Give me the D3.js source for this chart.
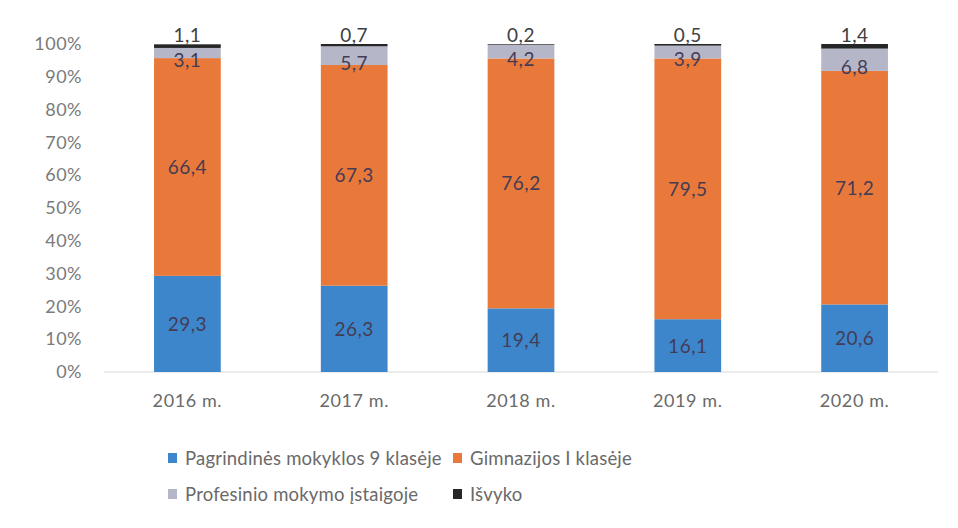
<!DOCTYPE html>
<html>
<head>
<meta charset="utf-8">
<script src="https://cdn.jsdelivr.net/npm/d3@7"></script>
<style>
  body { margin: 0; background: #fff; }
  svg text { font-family: Lato, "Open Sans", sans-serif; }
</style>
</head>
<body>
<div class="chart"></div>
<script>
const years = ['2016 m.', '2017 m.', '2018 m.', '2019 m.', '2020 m.'];
const seriesNames = ['Pagrindinės mokyklos 9 klasėje', 'Gimnazijos I klasėje', 'Profesinio mokymo įstaigoje', 'Išvyko'];
const pagrindines = [29.3, 26.3, 19.4, 16.1, 20.6];
const gimnazijos = [66.4, 67.3, 76.2, 79.5, 71.2];
const profesinio = [3.1, 5.7, 4.2, 3.9, 6.8];
const isvyko = [1.1, 0.7, 0.2, 0.5, 1.4];
const yTicks = [0, 10, 20, 30, 40, 50, 60, 70, 80, 90, 100];

const colors = ['#3d86cc', '#e9793a', '#b6b6c9', '#262626'];

const outerW = 958,
    outerH = 528;

const margin = { left: 104, right: 20, top: 44, bottom: 156 };
const w = outerW - margin.left - margin.right,
    h = outerH - margin.top - margin.bottom;

const rows = years.map((yr, i) => ({
    year: yr,
    s0: pagrindines[i],
    s1: gimnazijos[i],
    s2: profesinio[i],
    s3: isvyko[i]
}));
const keys = ['s0', 's1', 's2', 's3'];

const stacked = d3.stack().keys(keys)(rows);

const x = d3.scaleBand().range([0, w]).domain(years).paddingInner(0.6).paddingOuter(0.3);
const y = d3.scaleLinear().range([h, 0]).domain([0, 100]);

const svg = d3.select('.chart').append('svg')
    .attr('width', outerW)
    .attr('height', outerH);

const g = svg.append('g')
    .attr('transform', `translate(${margin.left}, ${margin.top})`);

// baseline
g.append('line')
    .attr('x1', 0).attr('x2', w)
    .attr('y1', y(0)).attr('y2', y(0))
    .attr('stroke', '#d9d9d9')
    .attr('stroke-width', 1);

// y axis
const yAxis = g.append('g')
    .attr('class', 'y axis')
    .call(d3.axisLeft(y).tickValues(yTicks).tickSize(0).tickPadding(22).tickFormat(d => d + '%'));
yAxis.select('.domain').remove();
yAxis.selectAll('text').attr('fill', '#7a7a7a').style('font-size', '18px').style('letter-spacing', '0.5px');

// x axis
const xAxis = g.append('g')
    .attr('class', 'x axis')
    .attr('transform', `translate(0, ${h})`)
    .call(d3.axisBottom(x).tickSize(0).tickPadding(22));
xAxis.select('.domain').remove();
xAxis.selectAll('text').attr('fill', '#6a6a6a').style('font-size', '18px').style('letter-spacing', '0.6px');

// bars
const layers = g.selectAll('.layer')
    .data(stacked)
    .enter()
    .append('g')
    .attr('class', 'layer')
    .attr('fill', (d, i) => colors[i]);

layers.selectAll('rect')
    .data(d => d.map(p => ({ p, key: d.key })))
    .enter()
    .append('rect')
    .attr('x', d => x(d.p.data.year))
    .attr('y', d => y(Math.min(d.p[1], 100)))
    .attr('width', x.bandwidth())
    .attr('height', d => y(d.p[0]) - y(Math.min(d.p[1], 100)));

// labels
const fmt = v => String(v).replace('.', ',');
layers.selectAll('text')
    .data(d => d.map(p => ({ p, key: d.key })))
    .enter()
    .append('text')
    .attr('text-anchor', 'middle')
    .attr('fill', d => d.key === 's3' ? '#404040' : '#443c55')
    .style('font-size', '19px')
    .style('letter-spacing', '0.5px')
    .attr('x', d => x(d.p.data.year) + x.bandwidth() / 2)
    .attr('y', d => {
        if (d.key === 's3') return y(100) - 2;
        const mid = y((d.p[0] + d.p[1]) / 2);
        return d.key === 's2' ? mid + 14 : mid + 7;
    })
    .text(d => fmt(d.p.data[d.key]));

// legend
const legendPos = [[168, 458], [453, 458], [168, 494], [453, 494]];
const legend = svg.selectAll('.legend')
    .data(seriesNames)
    .enter()
    .append('g')
    .attr('class', 'legend')
    .attr('transform', (d, i) => `translate(${legendPos[i][0]}, ${legendPos[i][1]})`);

legend.append('rect')
    .attr('x', 0).attr('y', -5)
    .attr('width', 9).attr('height', 10)
    .attr('fill', (d, i) => colors[i]);

legend.append('text')
    .attr('x', 17)
    .attr('y', 7)
    .attr('fill', '#6a6a6a')
    .style('font-size', '18.5px')
    .style('letter-spacing', '0.2px')
    .text(d => d);
</script>
</body>
</html>
